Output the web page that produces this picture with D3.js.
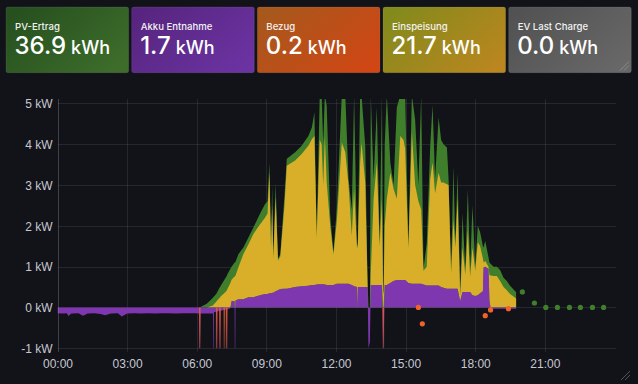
<!DOCTYPE html>
<html>
  <head>
    <meta charset="utf-8" />
    <title>PV Dashboard</title>
    <style>
      body {
        margin: 0;
        background: #121318;
        font-family: "Inter", "Roboto", sans-serif;
      }
      svg {
        display: block;
      }
      .grid line {
        stroke: rgba(204, 204, 220, 0.11);
        shape-rendering: crispEdges;
      }
      .tick text {
        fill: #c7c8d4;
        font-size: 12px;
      }
    </style>
    <script src="https://cdn.jsdelivr.net/npm/d3@7"></script>
  </head>
  <body>
    <div id="chart"></div>
    <script>
      // Stat-Kacheln
      const statTitel = ["PV-Ertrag", "Akku Entnahme", "Bezug", "Einspeisung", "EV Last Charge"];
      const statWerte = ["36.9", "1.7", "0.2", "21.7", "0.0"];
      const statFarben = [
        ["#26501f", "#3e6d2b"],
        ["#57257f", "#6b33a2"],
        ["#a7581d", "#d04614"],
        ["#838a1c", "#bb861f"],
        ["#525252", "#686868"],
      ];

      // Nacht: Akku-Entnahme (kW, negativ)
      const nachtStunden = [0, 0.25, 0.4, 0.47, 0.6, 0.9, 1.1, 1.3, 1.6, 1.85, 2.05, 2.3, 2.6, 2.77, 3.0, 3.3, 3.6, 3.9, 4.2, 4.5, 4.8, 5.1, 5.4, 5.7, 5.95, 6.08];
      const nachtAkku = [-0.14, -0.15, -0.14, -0.21, -0.15, -0.14, -0.2, -0.15, -0.14, -0.16, -0.19, -0.15, -0.14, -0.22, -0.15, -0.14, -0.15, -0.14, -0.15, -0.14, -0.14, -0.15, -0.14, -0.14, -0.14, -0.15];

      // Tag: Zeit (h), PV-Ertrag (Oberkante grün), Einspeisung (Oberkante gelb), Akku (lila)
      const tagStunden = [
        6.10, 6.12, 6.14, 6.16, 6.43, 6.70, 6.71, 6.73, 6.74, 6.84, 6.85, 6.87, 6.88, 6.98, 6.99, 7.01, 7.02,
        7.27, 7.28, 7.30, 7.31, 7.45, 7.50, 7.63, 7.64, 7.66, 7.67, 7.80, 8.01, 8.23, 8.44, 8.73, 8.94,
        9.05, 9.13, 9.20, 9.25, 9.30, 9.40, 9.50, 9.60, 9.78, 9.88, 10.24, 10.52, 10.81, 10.96, 11.07, 11.17,
        11.30, 11.38, 11.45, 11.52, 11.60, 11.75, 11.89, 12.04, 12.25, 12.40, 12.54, 12.68, 12.78, 12.90, 12.92, 12.94,
        13.04, 13.10, 13.26, 13.36, 13.40, 13.46, 13.50, 13.62, 13.76, 13.88, 13.98, 14.03, 14.05, 14.10, 14.19,
        14.34, 14.48, 14.62, 14.77, 14.91, 14.98, 15.12, 15.27, 15.41, 15.55, 15.67, 15.77, 15.91, 16.06, 16.16,
        16.27, 16.42, 16.53, 16.63, 16.78, 16.85, 16.96, 17.06, 17.14, 17.24, 17.35, 17.45, 17.57, 17.68, 17.78,
        17.88, 18.00, 18.11, 18.21, 18.33, 18.36, 18.43, 18.57, 18.61, 18.66, 18.79, 18.93, 19.07, 19.22, 19.36,
        19.50, 19.72, 19.76,
      ];
      const pvErtrag = [
        0, 0, 0, 0.01, 0.09, 0.24, 0.25, 0.26, 0.27, 0.33, 0.34, 0.36, 0.37, 0.48, 0.49, 0.51, 0.52,
        0.75, 0.76, 0.78, 0.8, 0.95, 1.0, 1.1, 1.1, 1.11, 1.12, 1.31, 1.47, 1.72, 1.96, 2.3, 2.53,
        2.6, 3.55, 1.52, 2.98, 1.27, 3.05, 1.2, 1.3, 2.74, 3.64, 3.8, 3.96, 4.2, 4.41, 4.78, 1.76,
        5.2, 5.2, 4.0, 5.2, 4.94, 2.25, 1.35, 2.46, 5.2, 5.2, 3.15, 2.4, 5.2, 1.57, 1.5, 1.6,
        5.2, 5.2, 3.96, 0.6, 0, 0, 5.2, 3.15, 4.9, 1.57, 5.2, 0.4, 0.4, 4.0, 5.2,
        3.55, 3.0, 4.9, 5.2, 5.2, 5.2, 1.5, 5.2, 4.6, 3.0, 5.2, 0.95, 1.57, 3.96, 4.96,
        3.15, 4.65, 4.1, 4.0, 3.92, 3.15, 0.9, 3.47, 1.57, 3.3, 0.33, 2.3, 0.95, 2.9, 0.95,
        2.5, 1.0, 2.0, 1.84, 1.5, 1.47, 1.63, 1.23, 1.1, 1.07, 1.0, 1.0, 0.92, 0.73, 0.65,
        0.53, 0.4, 0.38,
      ];
      const einspeisung = [
        0, 0, 0, 0, 0, 0.05, 0.06, 0.07, 0.08, 0.14, 0.15, 0.16, 0.17, 0.23, 0.24, 0.25, 0.26,
        0.4, 0.41, 0.42, 0.44, 0.6, 0.68, 0.76, 0.76, 0.77, 0.78, 0.99, 1.31, 1.55, 1.8, 2.04, 2.2,
        2.3, 3.31, 1.45, 2.5, 1.2, 2.7, 1.15, 1.25, 2.5, 3.47, 3.6, 3.76, 3.96, 4.12, 4.2, 1.7,
        4.1, 4.0, 3.0, 4.2, 3.06, 2.0, 1.3, 2.15, 4.04, 3.8, 3.0, 1.76, 2.9, 1.5, 1.45, 1.55,
        3.55, 4.04, 3.06, 0.55, 0, 0, 0.86, 2.66, 3.55, 1.5, 2.66, 0.35, 0.35, 2.0, 2.66,
        3.3, 2.9, 2.66, 4.2, 4.1, 3.88, 1.45, 4.29, 3.0, 2.6, 2.4, 0.9, 1.0, 3.15, 3.55,
        2.8, 3.3, 3.06, 3.06, 3.02, 3.0, 0.85, 2.15, 1.47, 2.66, 0.3, 1.47, 0.8, 1.9, 0.75,
        1.47, 0.9, 1.6, 1.5, 1.2, 1.1, 1.14, 1.0, 0.8, 0.78, 0.77, 0.77, 0.65, 0.5, 0.42,
        0.33, 0.24, 0.22,
      ];
      const akku = [
        -0.15, -1.0, -1.0, -0.15, -0.15, -0.15, -1.0, -1.0, -0.12, -0.1, -1.0, -1.0, -0.1, -0.08, -1.0, -1.0, -0.08,
        -0.05, -1.0, -1.0, -0.05, -0.02, 0.15, 0.16, -1.0, -1.0, 0.17, 0.2, 0.2, 0.25, 0.25, 0.3, 0.33,
        0.33, 0.35, 0.35, 0.36, 0.36, 0.4, 0.42, 0.45, 0.46, 0.46, 0.5, 0.52, 0.53, 0.55, 0.55, 0.56,
        0.57, 0.57, 0.57, 0.56, 0.55, 0.55, 0.55, 0.58, 0.58, 0.58, 0.58, 0.55, 0.52, 0.5, -0.1, 0.5,
        0.5, 0.5, 0.5, 0.5, -1.0, -0.85, 0.55, 0.55, 0.55, 0.55, 0.55, -1.0, -1.0, 0.55, 0.55,
        0.6, 0.65, 0.67, 0.67, 0.67, 0.67, 0.6, 0.58, 0.58, 0.58, 0.58, 0.56, 0.54, 0.54, 0.54,
        0.54, 0.54, 0.5, 0.48, 0.46, 0.46, 0.46, 0.46, 0.46, 0.46, 0.15, 0.38, 0.38, 0.38, 0.38,
        0.3, 0.28, 0.3, 0.35, 0.4, 0.98, 1.0, 0.94, 0.17, -0.03, -0.03, -0.03, -0.03, -0.03, -0.03,
        -0.03, -0.03, -0.03,
      ];

      // Bezug: kurze Spitzen und Einzelpunkte
      const bezugSpitzenStunden = [6.13, 6.86, 7.0, 7.19, 7.29, 14.04];
      const bezugSpitzenWerte = [-1.0, -1.0, -1.0, -1.0, -1.0, -1.0];
      const bezugPunktStunden = [15.55, 15.72, 18.43, 18.66, 19.43];
      const bezugPunktWerte = [0.0, -0.4, -0.2, -0.06, -0.03];
      // PV-Einzelpunkte am Abend
      const pvPunktStunden = [20.03, 20.55, 21.04, 21.54, 22.06, 22.53, 23.05, 23.53];
      const pvPunktWerte = [0.38, 0.11, 0, 0, 0, 0, 0, 0];

      const yTicks = [-1, 0, 1, 2, 3, 4, 5];
      const xTicks = [0, 3, 6, 9, 12, 15, 18, 21];

      const farbe = {
        pv: "#3f7f2c",
        ein: "#d9ae29",
        akku: "#7f37b0",
        bezug: "#f2612a",
      };

      const width = 638,
        height = 384;
      const svg = d3
        .select("#chart")
        .append("svg")
        .attr("width", width)
        .attr("height", height)
        .attr("viewBox", [0, 0, width, height]);

      // ---- Stat-Kacheln ----
      const band = d3
        .scaleBand()
        .domain(statTitel)
        .range([6, 631.3])
        .paddingInner(0.024);

      const defs = svg.append("defs");
      statFarben.forEach((c, i) => {
        const g = defs
          .append("linearGradient")
          .attr("id", "stat" + i)
          .attr("x1", "0%")
          .attr("y1", "20%")
          .attr("x2", "100%")
          .attr("y2", "80%");
        g.append("stop").attr("offset", "0%").attr("stop-color", c[0]);
        g.append("stop").attr("offset", "100%").attr("stop-color", c[1]);
      });

      const tiles = svg
        .append("g")
        .selectAll("g")
        .data(statTitel)
        .join("g")
        .attr("transform", (d) => `translate(${band(d)},7)`);

      tiles
        .append("rect")
        .attr("width", band.bandwidth())
        .attr("height", 65.7)
        .attr("rx", 2)
        .attr("fill", (d, i) => `url(#stat${i})`)
        .attr("stroke", "rgba(204,204,220,0.10)");

      tiles
        .append("text")
        .attr("x", 9)
        .attr("y", 22.5)
        .attr("fill", "#f2f2f2")
        .attr("font-size", 9.6)
        .attr("font-weight", 500)
        .text((d) => d);

      const val = tiles
        .append("text")
        .attr("x", 8.5)
        .attr("y", 46.5)
        .attr("fill", "#ffffff")
        .attr("font-weight", 500);
      val
        .append("tspan")
        .attr("font-size", 24)
        .text((d, i) => statWerte[i]);
      val
        .append("tspan")
        .attr("font-size", 18)
        .attr("dx", 5)
        .text("kWh");

      // resize handle auf letzter Kachel
      const handle = (g, x0, y0) => {
        [0, 4].forEach((o) =>
          g
            .append("line")
            .attr("x1", x0 - 9 + o)
            .attr("y1", y0)
            .attr("x2", x0)
            .attr("y2", y0 - 9 + o)
            .attr("stroke", "rgba(204,204,220,0.35)")
            .attr("stroke-width", 1)
        );
      };
      handle(svg.append("g"), 629, 70.5);
      handle(svg.append("g"), 630, 380);

      // ---- Zeitreihe ----
      const x = d3.scaleLinear().domain([0, 24]).range([57.5, 614.5]);
      const y = d3.scaleLinear().domain([-1, 5]).range([348.3, 103.3]);
      const plotTop = 99,
        plotBottom = 352,
        plotRight = 616;

      const grid = svg.append("g").attr("class", "grid");
      grid
        .selectAll("line.h")
        .data(yTicks)
        .join("line")
        .attr("class", "h")
        .attr("x1", x(0))
        .attr("x2", plotRight)
        .attr("y1", (d) => Math.round(y(d)) + 0.5)
        .attr("y2", (d) => Math.round(y(d)) + 0.5);
      grid
        .selectAll("line.v")
        .data(xTicks)
        .join("line")
        .attr("class", "v")
        .attr("x1", (d) => Math.round(x(d)) + 0.5)
        .attr("x2", (d) => Math.round(x(d)) + 0.5)
        .attr("y1", plotTop)
        .attr("y2", plotBottom);

      const yAxis = svg
        .append("g")
        .attr("transform", `translate(${x(0) - 5},0)`)
        .call(
          d3
            .axisLeft(y)
            .tickValues(yTicks)
            .tickSize(0)
            .tickPadding(0)
            .tickFormat((d) => d + " kW")
        );
      yAxis.select(".domain").remove();
      yAxis.selectAll("text").attr("dy", "0.35em");

      const xAxis = svg
        .append("g")
        .attr("transform", `translate(0,${plotBottom})`)
        .call(
          d3
            .axisBottom(x)
            .tickValues(xTicks)
            .tickSize(0)
            .tickPadding(7)
            .tickFormat((d) => String(d).padStart(2, "0") + ":00")
        );
      xAxis.select(".domain").remove();

      defs
        .append("clipPath")
        .attr("id", "plot")
        .append("rect")
        .attr("x", x(0))
        .attr("y", plotTop)
        .attr("width", plotRight - x(0))
        .attr("height", plotBottom - plotTop);

      const tag = tagStunden.map((t, i) => ({
        t,
        pv: pvErtrag[i],
        ein: einspeisung[i],
        akku: akku[i],
      }));
      const akkuAlle = nachtStunden
        .map((t, i) => ({ t, akku: nachtAkku[i] }))
        .concat(tag);

      const plot = svg.append("g").attr("clip-path", "url(#plot)");

      plot
        .append("path")
        .datum(tag)
        .attr("fill", farbe.pv)
        .attr(
          "d",
          d3
            .area()
            .x((d) => x(d.t))
            .y0(y(0))
            .y1((d) => y(d.pv))
        );

      plot
        .append("path")
        .datum(tag)
        .attr("fill", farbe.ein)
        .attr(
          "d",
          d3
            .area()
            .x((d) => x(d.t))
            .y0((d) => y(Math.max(d.akku, 0)))
            .y1((d) => y(Math.max(d.ein, d.akku, 0)))
        );

      plot
        .append("path")
        .datum(akkuAlle)
        .attr("fill", farbe.akku)
        .attr(
          "d",
          d3
            .area()
            .x((d) => x(d.t))
            .y0(y(0))
            .y1((d) => y(d.akku))
        );

      // Bezug-Spitzen
      const spitzeGrad = defs
        .append("linearGradient")
        .attr("id", "spitze")
        .attr("x1", 0)
        .attr("y1", 0)
        .attr("x2", 0)
        .attr("y2", 1);
      spitzeGrad.append("stop").attr("offset", "0%").attr("stop-color", farbe.bezug).attr("stop-opacity", 0.8);
      spitzeGrad.append("stop").attr("offset", "100%").attr("stop-color", farbe.bezug).attr("stop-opacity", 0.3);

      plot
        .append("g")
        .selectAll("rect")
        .data(bezugSpitzenStunden)
        .join("rect")
        .attr("x", (d) => x(d) - 0.8)
        .attr("width", 1.6)
        .attr("y", y(0))
        .attr("height", (d, i) => y(bezugSpitzenWerte[i]) - y(0))
        .attr("fill", "url(#spitze)");

      plot
        .append("g")
        .selectAll("circle")
        .data(bezugPunktStunden)
        .join("circle")
        .attr("cx", (d) => x(d))
        .attr("cy", (d, i) => y(bezugPunktWerte[i]))
        .attr("r", 2.6)
        .attr("fill", farbe.bezug);

      plot
        .append("g")
        .selectAll("circle")
        .data(pvPunktStunden)
        .join("circle")
        .attr("cx", (d) => x(d))
        .attr("cy", (d, i) => y(pvPunktWerte[i]))
        .attr("r", 2.6)
        .attr("fill", farbe.pv);

      // linke Achsenlinie
      svg
        .append("line")
        .attr("x1", Math.round(x(0)) + 0.5)
        .attr("x2", Math.round(x(0)) + 0.5)
        .attr("y1", plotTop)
        .attr("y2", plotBottom)
        .attr("stroke", "rgba(204,204,220,0.16)");
    </script>
  </body>
</html>
